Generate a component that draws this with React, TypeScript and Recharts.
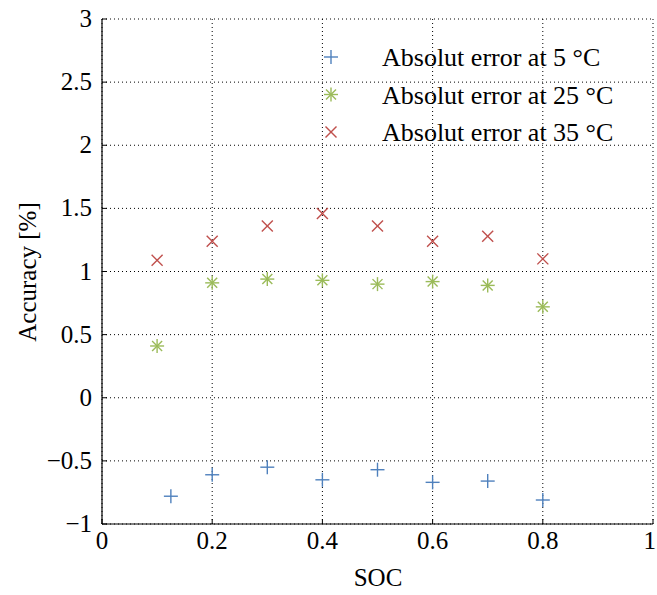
import { ScatterChart, Scatter, XAxis, YAxis, CartesianGrid, Legend } from "recharts";

// SOC positions
const socLow = [0.125, 0.2, 0.3, 0.4, 0.5, 0.6, 0.7, 0.8];
const soc = [0.1, 0.2, 0.3, 0.4, 0.5, 0.6, 0.7, 0.8];

// absolute error [%]
const err5 = [-0.78, -0.61, -0.55, -0.65, -0.57, -0.67, -0.66, -0.81];
const err25 = [0.41, 0.91, 0.94, 0.93, 0.9, 0.92, 0.89, 0.72];
const err35 = [1.09, 1.24, 1.36, 1.46, 1.36, 1.24, 1.28, 1.1];

const xTicks = [0, 0.2, 0.4, 0.6, 0.8, 1];
const yTicks = [-1, -0.5, 0, 0.5, 1, 1.5, 2, 2.5, 3];

const labels = ["Absolut error at 5 °C", "Absolut error at 25 °C", "Absolut error at 35 °C"];

const BLUE = "#4f81bd";
const GREEN = "#9bbb59";
const RED = "#c0504d";
const FONT = "'Liberation Serif', 'Times New Roman', 'DejaVu Serif', serif";

const toPts = (xs: number[], ys: number[]) => xs.map((x, i) => ({ x, y: ys[i] }));
const data5 = toPts(socLow, err5);
const data25 = toPts(soc, err25);
const data35 = toPts(soc, err35);

const Plus = ({ cx, cy, c }: any) => (
  <g stroke={c} strokeWidth={1.4}>
    <line x1={cx - 7} y1={cy} x2={cx + 7} y2={cy} />
    <line x1={cx} y1={cy - 7} x2={cx} y2={cy + 7} />
  </g>
);

const Cross = ({ cx, cy, c }: any) => (
  <g stroke={c} strokeWidth={1.4}>
    <line x1={cx - 5.5} y1={cy - 5.5} x2={cx + 5.5} y2={cy + 5.5} />
    <line x1={cx - 5.5} y1={cy + 5.5} x2={cx + 5.5} y2={cy - 5.5} />
  </g>
);

const Star = ({ cx, cy, c }: any) => (
  <g stroke={c} strokeWidth={1.4}>
    <line x1={cx - 7} y1={cy} x2={cx + 7} y2={cy} />
    <line x1={cx} y1={cy - 7} x2={cx} y2={cy + 7} />
    <line x1={cx - 5} y1={cy - 5} x2={cx + 5} y2={cy + 5} />
    <line x1={cx - 5} y1={cy + 5} x2={cx + 5} y2={cy - 5} />
  </g>
);

const fmt = (v: number) => String(v).replace("-", "\u2212");

const YTick = ({ x, y, payload }: any) => (
  <g>
    <line x1={x + 10} y1={y} x2={x + 15} y2={y} stroke="#000" strokeWidth={1} />
    <text x={x} y={y} dy={8} textAnchor="end" fontSize={25} fontFamily={FONT} fill="#000">
      {fmt(payload.value)}
    </text>
  </g>
);

// last label sits on the window edge, so anchor it at its end
const XTick = ({ x, y, payload }: any) => {
  const last = payload.value === 1;
  return (
    <g>
      <line x1={x} y1={y} x2={x} y2={y - 5} stroke="#000" strokeWidth={1} />
      <text
        x={last ? x + 3 : x}
        y={y}
        dy={25}
        textAnchor={last ? "end" : "middle"}
        fontSize={25}
        fontFamily={FONT}
        fill="#000"
      >
        {fmt(payload.value)}
      </text>
    </g>
  );
};

const YTitle = () => (
  <text
    x={27}
    y={272}
    transform="rotate(-90 27 272)"
    textAnchor="middle"
    dominantBaseline="central"
    fontSize={25}
    fontFamily={FONT}
    fill="#000"
  >
    Accuracy [%]
  </text>
);

const XTitle = () => (
  <text x={378} y={586} textAnchor="middle" fontSize={25} fontFamily={FONT} fill="#000">
    SOC
  </text>
);

const LegendBox = () => {
  const markers = [Plus, Star, Cross];
  const colors = [BLUE, GREEN, RED];
  return (
    <svg width={340} height={130} style={{ display: "block", overflow: "visible" }}>
      {labels.map((l, i) => {
        const M = markers[i];
        const my = 27 + i * 37.5;
        return (
          <g key={l}>
            <M cx={31} cy={my} c={colors[i]} />
            <text x={82} y={my + 9} fontSize={26} fontFamily={FONT} fill="#000">
              {l}
            </text>
          </g>
        );
      })}
    </svg>
  );
};

export default function App() {
  return (
    <div style={{ position: "absolute", left: 0, top: 0, width: 657, height: 595, background: "#fff", fontFamily: FONT }}>
      <ScatterChart width={657} height={595} margin={{ top: 19, right: 4, left: 0, bottom: 0 }}>
        <CartesianGrid stroke="#000" strokeDasharray="1 3" strokeWidth={1} />
        <XAxis
          type="number"
          dataKey="x"
          domain={[0, 1]}
          ticks={xTicks}
          interval={0}
          height={71}
          axisLine={{ stroke: "#000", strokeWidth: 1.2 }}
          tickLine={false}
          tickSize={0}
          tickMargin={0}
          tick={<XTick />}
          label={<XTitle />}
        />
        <YAxis
          type="number"
          dataKey="y"
          domain={[-1, 3]}
          ticks={yTicks}
          interval={0}
          width={102}
          axisLine={{ stroke: "#000", strokeWidth: 1.2 }}
          tickLine={false}
          tickSize={0}
          tickMargin={10}
          tick={<YTick />}
          label={<YTitle />}
        />
        <Legend
          layout="vertical"
          align="center"
          verticalAlign="middle"
          content={<LegendBox />}
          wrapperStyle={{ left: 300, top: 30, width: 340, height: 130 }}
        />
        <Scatter name={labels[0]} data={data5} isAnimationActive={false} shape={(p: any) => <Plus cx={p.cx} cy={p.cy} c={BLUE} />} />
        <Scatter name={labels[1]} data={data25} isAnimationActive={false} shape={(p: any) => <Star cx={p.cx} cy={p.cy} c={GREEN} />} />
        <Scatter name={labels[2]} data={data35} isAnimationActive={false} shape={(p: any) => <Cross cx={p.cx} cy={p.cy} c={RED} />} />
      </ScatterChart>
    </div>
  );
}
